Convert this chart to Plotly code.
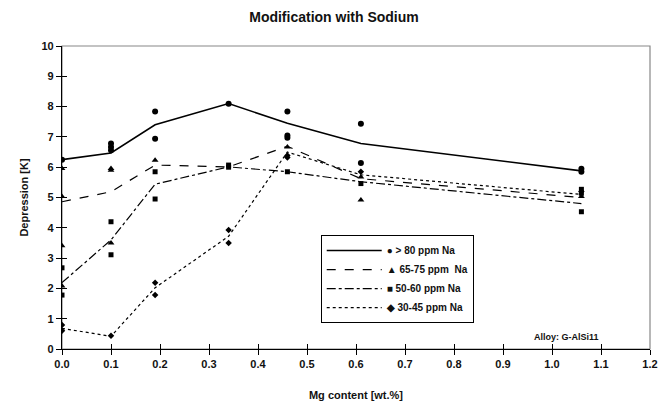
import plotly.graph_objects as go

# Mean lines
mg = [0.0, 0.1, 0.19, 0.34, 0.46, 0.61, 1.06]
line_80 = [6.25, 6.47, 7.4, 8.1, 7.45, 6.78, 5.88]
line_65 = [4.86, 5.19, 6.07, 6.01, 6.69, 5.62, 5.0]
line_50 = [2.19, 3.6, 5.44, 6.01, 5.85, 5.52, 4.8]
line_30 = [0.68, 0.42, 2.02, 3.72, 6.5, 5.75, 5.1]

# Individual measurements
pts80_x = [0.0, 0.1, 0.1, 0.1, 0.19, 0.19, 0.34, 0.46, 0.46, 0.46, 0.61, 0.61, 1.06, 1.06]
pts80_y = [6.25, 6.78, 6.67, 6.56, 7.84, 6.94, 8.09, 7.84, 7.05, 6.97, 7.43, 6.14, 5.95, 5.85]
pts65_x = [0.0, 0.0, 0.0, 0.0, 0.1, 0.1, 0.1, 0.19, 0.46, 0.61, 0.61, 1.06]
pts65_y = [5.96, 5.03, 3.41, 2.08, 5.96, 5.9, 3.5, 6.23, 6.67, 5.68, 4.92, 5.03]
pts50_x = [0.0, 0.0, 0.1, 0.1, 0.19, 0.19, 0.34, 0.34, 0.46, 0.61, 1.06, 1.06, 1.06]
pts50_y = [2.68, 1.78, 4.2, 3.11, 5.85, 4.95, 6.07, 6.0, 5.85, 5.46, 5.27, 5.14, 4.53]
pts30_x = [0.0, 0.0, 0.1, 0.19, 0.19, 0.34, 0.34, 0.46, 0.46, 0.61, 1.06]
pts30_y = [0.79, 0.6, 0.44, 2.19, 1.78, 3.93, 3.5, 6.39, 6.32, 5.85, 5.2]

names = ["\u25cf > 80 ppm Na", "\u25b2 65-75 ppm  Na", "\u25a0 50-60 ppm Na", "\u25c6 30-45 ppm Na"]
x_ticks = [0.0, 0.1, 0.2, 0.3, 0.4, 0.5, 0.6, 0.7, 0.8, 0.9, 1.0, 1.1, 1.2]
y_ticks = list(range(0, 11))

fig = go.Figure()

series = [
    (line_80, "solid", pts80_x, pts80_y, "circle", 6),
    (line_65, "dash", pts65_x, pts65_y, "triangle-up", 6),
    (line_50, "dashdot", pts50_x, pts50_y, "square", 5),
    (line_30, "dot", pts30_x, pts30_y, "diamond", 5),
]
for (ly, dash, px, py, sym, sz), nm in zip(series, names):
    fig.add_trace(go.Scatter(x=mg, y=ly, mode="lines", name=nm,
                             line=dict(color="black", width=1.6 if dash == "solid" else 1.2, dash=dash)))
for (ly, dash, px, py, sym, sz), nm in zip(series, names):
    fig.add_trace(go.Scatter(x=px, y=py, mode="markers", showlegend=False,
                             marker=dict(symbol=sym, size=sz, color="black")))

font_fam = "Arial, Liberation Sans, sans-serif"
axis_common = dict(showgrid=False, zeroline=False, showline=True, linecolor="black",
                   linewidth=1.2, ticks="outside", ticklen=5, tickcolor="black",
                   automargin=False,
                   tickfont=dict(family=font_fam, size=11, color="#111", weight="bold"))

fig.update_layout(
    width=668, height=405,
    margin=dict(l=62, r=18, t=46, b=56),
    paper_bgcolor="white", plot_bgcolor="white",
    title=dict(text="Modification with Sodium", x=0.5, xanchor="center", y=0.958, yanchor="middle",
               font=dict(family=font_fam, size=14, color="#111", weight="bold")),
    xaxis=dict(range=[0, 1.2], tickvals=x_ticks, ticktext=[f"{v:.1f}" for v in x_ticks],
               title=dict(text="Mg content [wt.%]", standoff=22,
                          font=dict(family=font_fam, size=11, color="#111", weight="bold")),
               **axis_common),
    yaxis=dict(range=[0, 10], tickvals=y_ticks,
               title=dict(text="Depression [K]", standoff=10,
                          font=dict(family=font_fam, size=11, color="#111", weight="bold")),
               **axis_common),
    xaxis2=dict(range=[0, 1.2], tickvals=x_ticks, overlaying="x", showticklabels=False,
                showgrid=False, zeroline=False, showline=False, ticks="inside", ticklen=5,
                tickcolor="black", side="bottom", anchor="y"),
    yaxis2=dict(range=[0, 10], tickvals=y_ticks, overlaying="y", showticklabels=False,
                showgrid=False, zeroline=False, showline=False, ticks="inside", ticklen=5,
                tickcolor="black", side="left", anchor="x"),
    legend=dict(x=0.44, y=0.376, xanchor="left", yanchor="top", bgcolor="white",
                bordercolor="black", borderwidth=1, itemwidth=55,
                font=dict(family=font_fam, size=10, color="#111", weight="bold")),
    showlegend=True,
)
fig.add_trace(go.Scatter(x=[None], y=[None], xaxis="x2", yaxis="y2", showlegend=False))

fig.add_shape(type="rect", xref="paper", yref="paper", x0=0, y0=0, x1=1, y1=1,
              line=dict(color="#888", width=1.2), layer="below")

fig.add_annotation(text="Alloy: G-AlSi11", xref="x", yref="y", x=1.03, y=0.4,
                   xanchor="center", yanchor="middle", showarrow=False,
                   font=dict(family=font_fam, size=9, color="#111", weight="bold"))

fig.write_html("out.html", config={"displayModeBar": False},
               post_script="document.body.style.margin='0';")
